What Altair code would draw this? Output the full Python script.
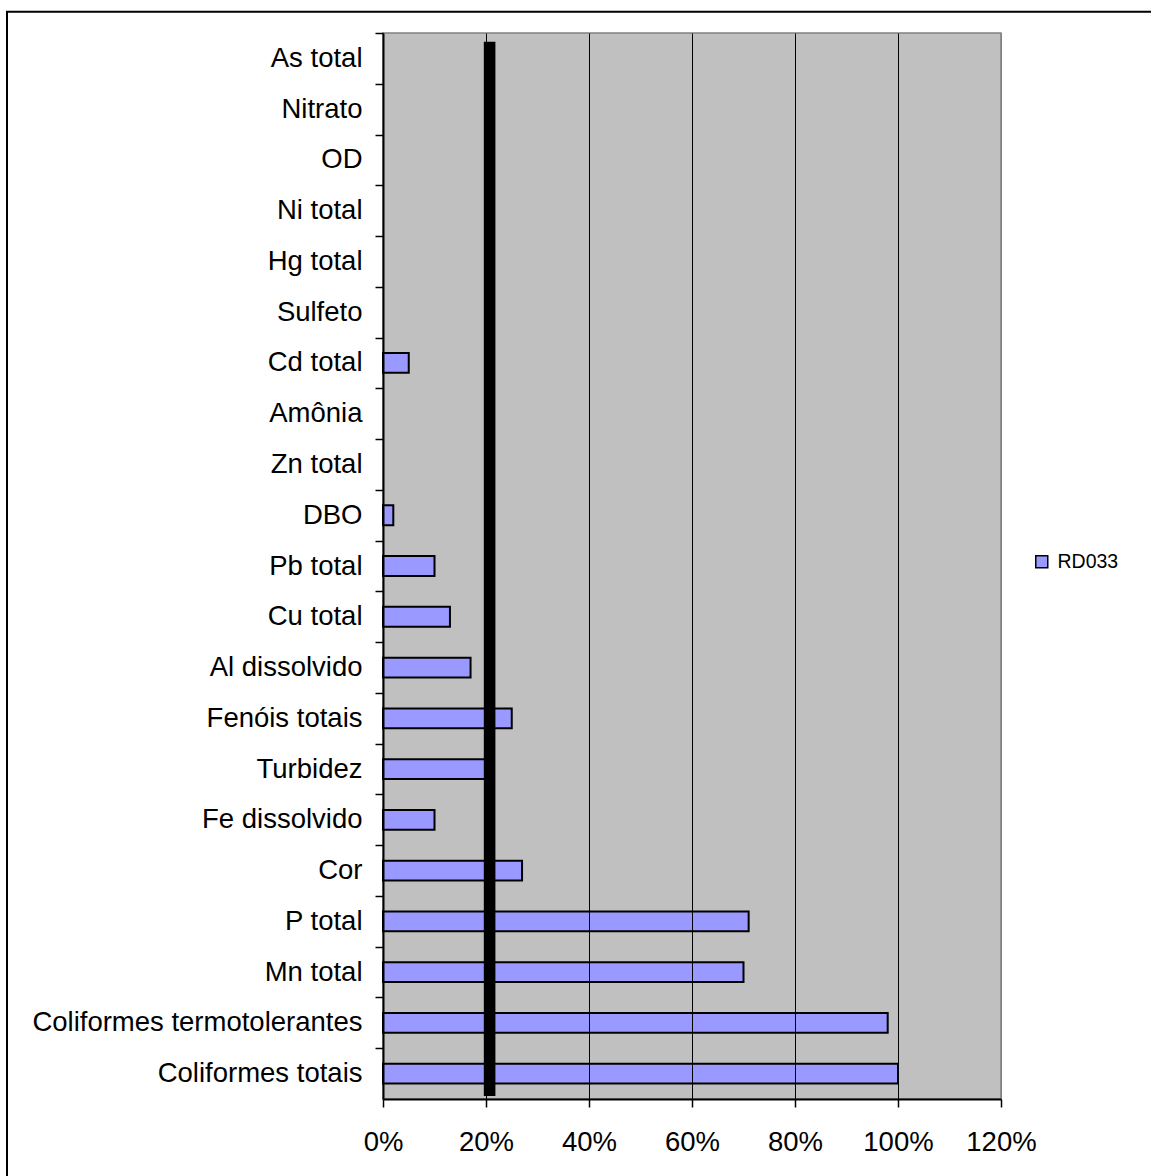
import altair as alt
import pandas as pd

categories = ["As total", "Nitrato", "OD", "Ni total", "Hg total", "Sulfeto", "Cd total",
              "Amônia", "Zn total", "DBO", "Pb total", "Cu total", "Al dissolvido",
              "Fenóis totais", "Turbidez", "Fe dissolvido", "Cor", "P total", "Mn total",
              "Coliformes termotolerantes", "Coliformes totais"]
values = [0, 0, 0, 0, 0, 0, 5, 0, 0, 2, 10, 13, 17, 25, 20, 10, 27, 71, 70, 98, 100]
series_name = "RD033"
threshold = [20.7]
x_ticks = [0, 20, 40, 60, 80, 100, 120]

df = pd.DataFrame({"param": categories, "value": values, "serie": series_name})
df_thr = pd.DataFrame({"limite": threshold})

FONT = "Liberation Sans"
W, H = 618, 1066
HALF_STEP = H / len(categories) / 2

xscale = alt.Scale(domain=[0, 120], nice=False, zero=True)

bars = alt.Chart(df).transform_filter("datum.value > 0").mark_bar(
    stroke="black", strokeWidth=2
).encode(
    x=alt.X("value:Q", scale=xscale,
            axis=alt.Axis(values=x_ticks, labelExpr="datum.value + '%'", title=None,
                          grid=True,
                          gridColor={"condition": {"test": "datum.value >= 120", "value": "#808080"},
                                     "value": "black"},
                          gridWidth=1, domain=True, domainColor="black", domainWidth=2,
                          tickColor="black", tickSize=8, tickWidth=1.5,
                          labelFont=FONT, labelFontSize=27.5, labelColor="black",
                          labelPadding=21, labelFlush=False, zindex=1)),
    y=alt.Y("param:N", sort=categories,
            scale=alt.Scale(domain=categories, paddingInner=0.61, paddingOuter=0.305),
            axis=alt.Axis(title=None, domain=True, domainColor="black",
                          domainWidth=2, tickColor="black", tickSize=8, tickWidth=1.5,
                          tickOffset=-HALF_STEP, labelOffset=HALF_STEP,
                          grid=False, labelFont=FONT, labelFontSize=27.5, labelColor="black",
                          labelPadding=13, labelLimit=600, zindex=1)),
    color=alt.Color("serie:N", scale=alt.Scale(range=["#9999FF"]),
                    legend=alt.Legend(title=None, orient="none", legendX=649, legendY=519,
                                      symbolType="square", symbolSize=144,
                                      symbolStrokeColor="black", symbolStrokeWidth=1.5,
                                      labelFont=FONT, labelFontSize=19.5, labelColor="black",
                                      labelOffset=6)),
)

line = alt.Chart(df_thr).mark_rule(color="black", strokeWidth=11.6, strokeCap="butt").encode(
    x=alt.X("limite:Q", scale=xscale),
    y=alt.value(8.7),
    y2=alt.value(H - 3),
)

frame = alt.Chart(df_thr).mark_rect(fill=None, stroke="black", strokeWidth=2).encode(
    x=alt.value(-376), x2=alt.value(W + 400),
    y=alt.value(-21.3), y2=alt.value(H + 200),
)

chart = alt.layer(bars, line, frame).properties(
    width=W, height=H,
    autosize=alt.AutoSizeParams(type="none"),
    padding={"left": 383, "top": 33, "right": 150, "bottom": 77},
    background="white",
).configure_view(
    fill="#C0C0C0", stroke="#808080", strokeWidth=1.5
)

chart.save("out.html", embed_options={"renderer": "svg", "actions": False})
